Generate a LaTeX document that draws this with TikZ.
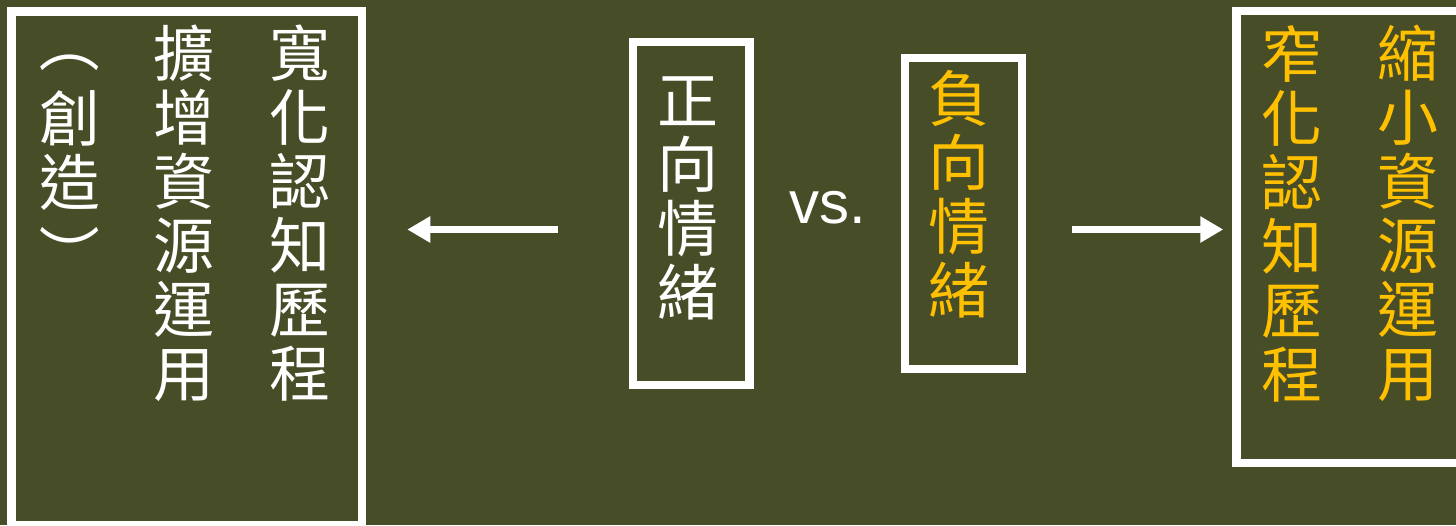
\documentclass[tikz,border=0pt]{standalone}
\usepackage{fontspec}
\usepackage{graphicx}
\newfontfamily\cjk{Noto Sans CJK TC}
\newfontfamily\arialfont{Liberation Sans}
\usetikzlibrary{arrows.meta}
\definecolor{bgolive}{HTML}{474D27}
\definecolor{gold}{HTML}{FFC000}
\newcommand\vparen[2]{\raisebox{#1}{\rotatebox[origin=c]{-90}{#2}}}
\tikzset{
  frame/.style={draw=white, line width=8.5pt, inner sep=0pt, rectangle},
  vcol/.style={anchor=north, inner sep=0pt, align=center,
    font=\cjk\fontsize{61}{64}\selectfont},
  arr/.style={draw=white, line width=7pt, -{Triangle[length=23pt,width=25pt]}}
}
\begin{document}
\begin{tikzpicture}[x=1pt,y=-1pt]
\fill[bgolive] (0,0) rectangle (1456,525);
\useasboundingbox (0,0) rectangle (1456,525);
\clip (0,0) rectangle (1456,525);
% frames
\node[frame, minimum width=350.5pt, minimum height=514pt] (leftbox) at (186.75,268.5) {};
\node[frame, minimum width=233.5pt, minimum height=452pt] (rightbox) at (1353.25,237) {};
\node[frame, minimum width=116.5pt, minimum height=343pt] (posbox) at (691.25,213.5) {};
\node[frame, minimum width=117pt, minimum height=311pt] (negbox) at (963.5,213.5) {};
% left texts
\node[vcol, text=white] (l1) at (300,25) {寬\\化\\認\\知\\歷\\程};
\node[vcol, text=white] (l2) at (184,25) {擴\\增\\資\\源\\運\\用};
\node[vcol, text=white] (l3) at (70,12) {\vparen{12pt}{（}\\創\\造\\\vparen{-8pt}{）}};
% middle
\node[vcol, text=white] (pos) at (687.5,77) {正\\向\\情\\緒};
\node[vcol, text=gold] (neg) at (959,70) {負\\向\\情\\緒};
\node[anchor=base west, inner sep=0pt, text=white, font=\arialfont\fontsize{60}{72}\selectfont] (vs) at (789,223) {vs.};
% right texts
\node[vcol, text=gold] (r1) at (1408,25) {縮\\小\\資\\源\\運\\用};
\node[vcol, text=gold] (r2) at (1292,25) {窄\\化\\認\\知\\歷\\程};
% arrows
\coordinate (ay) at (0,229.5);
\draw[arr, shorten <=71pt, shorten >=41pt] (posbox.west |- ay) -- (leftbox.east |- ay);
\draw[arr, shorten <=46pt, shorten >=9pt] (negbox.east |- ay) -- (rightbox.west |- ay);
\end{tikzpicture}
\end{document}
